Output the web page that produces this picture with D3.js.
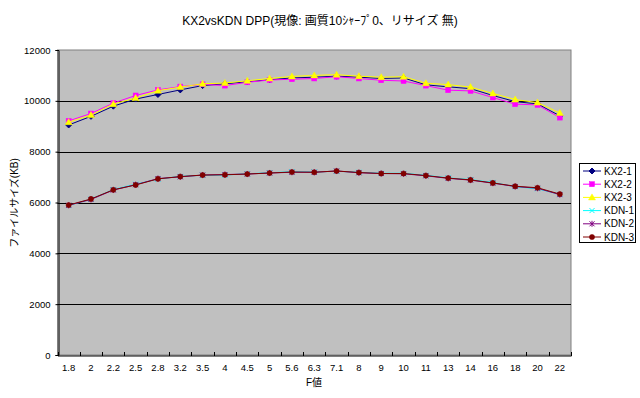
<!DOCTYPE html>
<html><head><meta charset="utf-8">
<script src="https://cdn.jsdelivr.net/npm/d3@7"></script>
<style>html,body{margin:0;padding:0;background:#fff;}</style>
</head><body>
<svg id="c" width="640" height="398"></svg>
<script>
const categories = ["1.8","2","2.2","2.5","2.8","3.2","3.5","4","4.5","5","5.6","6.3","7.1","8","9","10","11","13","14","16","18","20","22"];
const seriesNames = ["KX2-1","KX2-2","KX2-3","KDN-1","KDN-2","KDN-3"];
const kx2_1 = [9050,9390,9790,10070,10250,10430,10600,10670,10750,10830,10900,10930,10970,10930,10880,10900,10630,10550,10480,10210,9970,9880,9410];
const kx2_2 = [9210,9500,9910,10210,10430,10560,10650,10600,10730,10820,10850,10880,10950,10880,10810,10780,10600,10420,10390,10130,9870,9840,9340];
const kx2_3 = [9160,9440,9870,10110,10400,10540,10670,10700,10790,10880,10960,11000,11030,10970,10930,10950,10690,10640,10540,10290,10050,9930,9520];
const kdn_1 = [5880,6130,6510,6720,6920,7030,7070,7080,7130,7170,7210,7200,7230,7190,7150,7150,7070,6970,6900,6790,6620,6540,6320];
const kdn_2 = [5890,6120,6490,6700,6940,7010,7080,7100,7120,7160,7190,7190,7240,7170,7140,7130,7050,6950,6880,6760,6630,6560,6310];
const kdn_3 = [5900,6140,6500,6690,6930,7020,7080,7090,7120,7160,7200,7190,7240,7180,7140,7140,7060,6960,6890,6770,6640,6580,6330];
const yTicks = [0,2000,4000,6000,8000,10000,12000];
const title = "KX2vsKDN DPP(現像: 画質10ｼｬｰﾌﾟ0、リサイズ 無)";
const yTitle = "ファイルサイズ(KB)";
const xTitle = "F値";

const seriesValues = [kx2_1,kx2_2,kx2_3,kdn_1,kdn_2,kdn_3];
const colors = ["#000080","#FF00FF","#FFFF00","#00FFFF","#800080","#800000"];
const markers = ["diamond","square","triangle","x","star","circle"];

const svg = d3.select("#c");
const L=57.5, R=571, T=50, B=355;
const x = d3.scaleBand().domain(categories).range([L,R]);
const y = d3.scaleLinear().domain([0,12000]).range([B,T]);
const font = "'Liberation Sans', Arial, 'Noto Sans CJK JP', sans-serif";

// plot area
svg.append("rect").attr("x",L).attr("y",T).attr("width",R-L).attr("height",B-T)
  .attr("fill","#C0C0C0").attr("stroke","#808080").attr("stroke-width",1);
// gridlines
svg.append("g").selectAll("line").data(yTicks.filter(d=>d>0&&d<12000)).join("line")
  .attr("x1",L).attr("x2",R).attr("y1",d=>Math.round(y(d))+0.5).attr("y2",d=>Math.round(y(d))+0.5)
  .attr("stroke","#000").attr("stroke-width",1);

// axes
const yAxis = svg.append("g").attr("transform",`translate(${Math.round(L)+0.5},0)`)
  .call(d3.axisLeft(y).tickValues(yTicks).tickSize(3).tickPadding(5).tickFormat(d3.format("d")));
yAxis.select(".domain").attr("stroke","#000");
yAxis.selectAll("text").attr("font-family",font).attr("font-size","9.5px").attr("fill","#000");

const xAxis = svg.append("g").attr("transform",`translate(0,${Math.round(B)+0.5})`)
  .call(d3.axisBottom(x).tickSize(0).tickPadding(9));
xAxis.select(".domain").attr("stroke","#000");
xAxis.selectAll("text").attr("font-family",font).attr("font-size","9.5px").attr("fill","#000");
// category boundary ticks
const bounds = categories.map(c=>x(c)).concat([R]);
svg.append("g").selectAll("line").data(bounds).join("line")
  .attr("x1",d=>Math.round(d)+0.5).attr("x2",d=>Math.round(d)+0.5)
  .attr("y1",Math.round(B)-3).attr("y2",Math.round(B)+1)
  .attr("stroke","#000");

// lines
const line = d3.line().x((d,i)=>x(categories[i])+x.bandwidth()/2).y(d=>y(d));
function drawMarker(g, type, color, cx, cy){
  if(type==="diamond"){
    g.append("path").attr("d",`M${cx},${cy-3}L${cx+3},${cy}L${cx},${cy+3}L${cx-3},${cy}Z`).attr("fill",color).attr("stroke",color);
  } else if(type==="square"){
    g.append("rect").attr("x",cx-2.5).attr("y",cy-2.5).attr("width",5).attr("height",5).attr("fill",color).attr("stroke",color).attr("stroke-width",0.5);
  } else if(type==="triangle"){
    g.append("path").attr("d",`M${cx},${cy-3.5}L${cx+3.5},${cy+2.5}L${cx-3.5},${cy+2.5}Z`).attr("fill",color).attr("stroke",color).attr("stroke-width",0.5);
  } else if(type==="x"){
    g.append("path").attr("d",`M${cx-2.5},${cy-2.5}L${cx+2.5},${cy+2.5}M${cx+2.5},${cy-2.5}L${cx-2.5},${cy+2.5}`).attr("stroke",color).attr("stroke-width",1);
  } else if(type==="star"){
    g.append("path").attr("d",`M${cx-2.5},${cy-2.5}L${cx+2.5},${cy+2.5}M${cx+2.5},${cy-2.5}L${cx-2.5},${cy+2.5}M${cx},${cy-3}L${cx},${cy+3}`).attr("stroke",color).attr("stroke-width",1);
  } else {
    g.append("circle").attr("cx",cx).attr("cy",cy).attr("r",2.6).attr("fill",color).attr("stroke",color).attr("stroke-width",0.5);
  }
}
seriesValues.forEach((vals,si)=>{
  const g = svg.append("g");
  g.append("path").attr("d",line(vals)).attr("fill","none").attr("stroke",colors[si]).attr("stroke-width",1);
  vals.forEach((v,i)=>drawMarker(g, markers[si], colors[si], x(categories[i])+x.bandwidth()/2, y(v)));
});

// titles
svg.append("text").attr("x",320).attr("y",25).attr("text-anchor","middle")
  .attr("font-family",font).attr("font-size","12px").text(title);
svg.append("text").attr("transform","translate(18,203) rotate(-90)").attr("text-anchor","middle")
  .attr("font-family",font).attr("font-size","10px").text(yTitle);
svg.append("text").attr("x",314).attr("y",386).attr("text-anchor","middle")
  .attr("font-family",font).attr("font-size","10px").text(xTitle);

// legend
const lg = svg.append("g");
lg.append("rect").attr("x",579.5).attr("y",163.5).attr("width",56).attr("height",79)
  .attr("fill","#fff").attr("stroke","#000");
seriesNames.forEach((n,i)=>{
  const ly = 171 + i*13.2;
  lg.append("line").attr("x1",583).attr("x2",601).attr("y1",ly).attr("y2",ly).attr("stroke",colors[i]).attr("stroke-width",1);
  drawMarker(lg, markers[i], colors[i], 592, ly);
  lg.append("text").attr("x",604).attr("y",ly+3.5).attr("font-family",font).attr("font-size","10px").text(n);
});
</script>
</body></html>
